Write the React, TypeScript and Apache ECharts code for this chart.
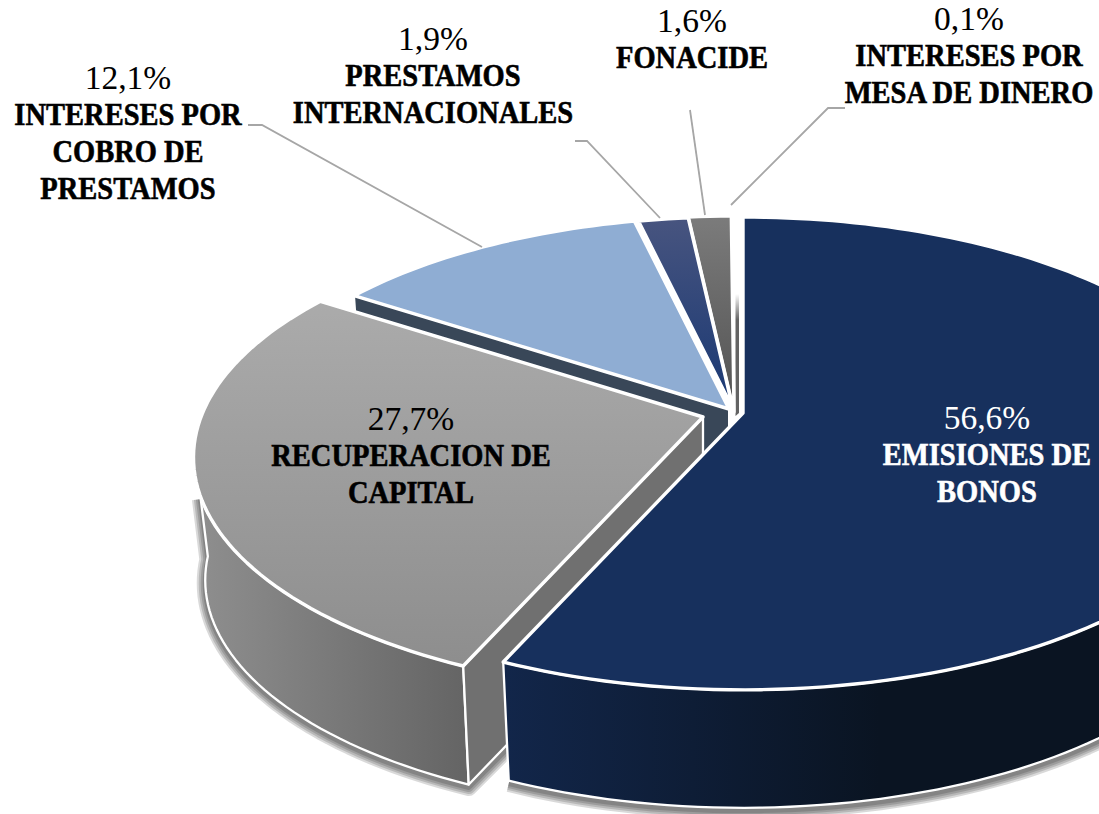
import React, { useEffect, useRef } from "react";
import * as echarts from "echarts";

const categories = [
  "EMISIONES DE BONOS",
  "RECUPERACION DE CAPITAL",
  "INTERESES POR COBRO DE PRESTAMOS",
  "PRESTAMOS INTERNACIONALES",
  "FONACIDE",
  "INTERESES POR MESA DE DINERO",
];
const values = [56.6, 27.7, 12.1, 1.9, 1.6, 0.1];
const nameLines = [
  ["EMISIONES DE", "BONOS"],
  ["RECUPERACION DE", "CAPITAL"],
  ["INTERESES POR", "COBRO DE", "PRESTAMOS"],
  ["PRESTAMOS", "INTERNACIONALES"],
  ["FONACIDE"],
  ["INTERESES POR", "MESA DE DINERO"],
];

// Presentation only: projection and per-slice placement.
const A = 502, B = 229.5, K = 0.171, DEPTH = 123.5, FLOOR_X = 0.977, FLOOR_Y = 0.98;
const W = 1099, H = 814;
const apexes = [
  { x: 743, y: 413, s: 1 },
  { x: 703, y: 417, s: 1 },
  { x: 729, y: 409, s: 0.98 },
  { x: 733, y: 409, s: 0.98 },
  { x: 734, y: 412, s: 1 },
  { x: 736, y: 413, s: 1 },
];
const labelBoxes = [
  { x: 987, y: 417, color: "#ffffff" },
  { x: 411, y: 418, color: "#000000" },
  { x: 128, y: 77, color: "#000000" },
  { x: 433, y: 38, color: "#000000" },
  { x: 692, y: 20, color: "#000000" },
  { x: 969, y: 18, color: "#000000" },
];
const leaders = [
  [[248, 125], [262, 125], [482, 247]],
  [[575, 141], [587, 141], [660, 218]],
  [[690, 110], [705, 215]],
  [[845, 108], [828, 108], [731, 205]],
];
const LINE = 37.1;
const pctFont = '400 33.5px "Liberation Serif"';
const boldFont = '700 31px "Liberation Serif"';
const BOLD_SQUEEZE = 0.92;

const lg = (x0: number, y0: number, x1: number, y1: number, c0: string, c1: string) =>
  new echarts.graphic.LinearGradient(x0, y0, x1, y1, [
    { offset: 0, color: c0 },
    { offset: 1, color: c1 },
  ], true);

const topFills = [
  () => "#17305d",
  () => lg(0, 300, 0, 660, "#ababab", "#8e8e8e"),
  () => "#8fadd3",
  () => lg(0, 220, 0, 395, "#47547f", "#1c3a74"),
  () => lg(0, 218, 0, 400, "#7b7b7b", "#545454"),
  () => "#ffffff",
];

const total = values.reduce((a, b) => a + b, 0);
const starts: number[] = [];
values.reduce((acc, v, i) => {
  starts[i] = (acc / total) * 360;
  return acc + v;
}, 0);

function pt(i: number, deg: number) {
  const ap = apexes[i];
  const r = (deg * Math.PI) / 180;
  const u = Math.sin(r), v = Math.cos(r);
  const d = 1 + K * v;
  return [ap.x + (A * ap.s * u) / d, ap.y - (B * ap.s * v) / d];
}
function arc(i: number, a0: number, a1: number) {
  const n = Math.max(2, Math.ceil(Math.abs(a1 - a0) / 1.5));
  const out: number[][] = [];
  for (let j = 0; j <= n; j++) out.push(pt(i, a0 + ((a1 - a0) * j) / n));
  return out;
}
const floor = (i: number, p: number[]) => [
  apexes[i].x + (p[0] - apexes[i].x) * FLOOR_X,
  apexes[i].y + DEPTH + (p[1] - apexes[i].y) * FLOOR_Y,
];
const white = { stroke: "#ffffff", lineWidth: 3.4, lineJoin: "round" as const };
const thin = { lineWidth: 2.3 };

function renderSlice(_: any, api: any) {
  const i = api.value(0) as number;
  const a0 = starts[i];
  const a1 = a0 + ((api.value(1) as number) / total) * 360;
  const ap = apexes[i];
  const children: any[] = [];
  const poly = (points: number[][], fill: any, extra: any = {}) =>
    children.push({ type: "polygon", silent: true, shape: { points }, style: { fill, ...white, ...extra } });
  const shadow = (points: number[][]) => {
    const shifted = points.map((p) => [p[0], p[1] + 3]);
    [17, 13, 9, 5].forEach((w) =>
      children.push({
        type: "polyline",
        silent: true,
        shape: { points: shifted },
        style: { fill: "none", stroke: "rgba(0,0,0,0.15)", lineWidth: w, lineJoin: "round" },
      })
    );
  };

  if (i === 0) {
    const a = arc(i, Math.max(a0, 80), a1);
    const f = a.map((p) => floor(i, p));
    shadow(f);
    poly([...a, ...f.reverse()], lg(505, 0, 880, 0, "#12264a", "#0a1422"), thin);
  }
  if (i === 1) {
    const top = arc(i, a0, 251);
    const bottom = arc(i, a0, 266).map((p) => floor(i, p));
    const o = pt(i, a0);
    const apexFloor = [ap.x, ap.y + DEPTH];
    // the drop shadow follows the base from the left edge round to the cut face
    shadow([top[top.length - 1], ...bottom.slice().reverse(), [(floor(i, o)[0] + 40), floor(i, o)[1] - 40]]);
    poly([...top, ...bottom.slice().reverse()], lg(200, 0, 462, 0, "#8e8e8e", "#656565"), thin);
    poly([[ap.x, ap.y], o, floor(i, o), apexFloor], "#707070", thin);
  }
  if (i === 2) {
    const o = pt(i, a0);
    poly([[ap.x, ap.y], o, floor(i, o), [ap.x, ap.y + DEPTH]], "#394758", { lineWidth: 2 });
  }
  poly([[ap.x, ap.y], ...arc(i, a0, a1)], topFills[i]());
  if (i === 5) {
    children.push({
      type: "polygon",
      silent: true,
      shape: { points: [[735.5, ap.y + 3], [735.5, 294], [739, 294], [739, ap.y]] },
      style: { fill: lg(0, 294, 0, 320, "#ffffff", "#636363") },
    });
  }
  return { type: "group", children };
}

function labelGraphics() {
  const out: any[] = [];
  values.forEach((v, i) => {
    const b = labelBoxes[i];
    const lines = [`${v.toFixed(1).replace(".", ",")}%`, ...nameLines[i]];
    lines.forEach((t, j) => {
      out.push({
        type: "text",
        z: 20,
        silent: true,
        x: b.x,
        y: b.y + j * LINE,
        scaleX: j === 0 ? 1 : BOLD_SQUEEZE,
        style: {
          text: t,
          font: j === 0 ? pctFont : boldFont,
          fill: b.color,
          align: "center",
          verticalAlign: "middle",
          ...(j === 0 ? {} : { stroke: b.color, lineWidth: 0.6 }),
        },
      });
    });
  });
  leaders.forEach((pts) => {
    out.push({
      type: "polyline",
      z: 15,
      silent: true,
      shape: { points: pts },
      style: { stroke: "#a6a6a6", lineWidth: 1.8, fill: "none" },
    });
  });
  return out;
}

export default function App() {
  const ref = useRef<HTMLDivElement>(null);
  useEffect(() => {
    document.body.style.margin = "0";
    const chart = echarts.init(ref.current!, undefined, { renderer: "svg" });
    chart.setOption({
      animation: false,
      backgroundColor: "#ffffff",
      series: [
        {
          type: "custom",
          coordinateSystem: "none",
          renderItem: renderSlice,
          clip: false,
          silent: true,
          dimensions: ["index", "value"],
          // painted back to front; the large front slice goes last
          data: [5, 4, 3, 2, 1, 0].map((i) => ({ name: categories[i], value: [i, values[i]] })),
        },
      ],
      graphic: { elements: labelGraphics() },
    });
    return () => chart.dispose();
  }, []);
  return <div ref={ref} style={{ width: W, height: H }} />;
}
